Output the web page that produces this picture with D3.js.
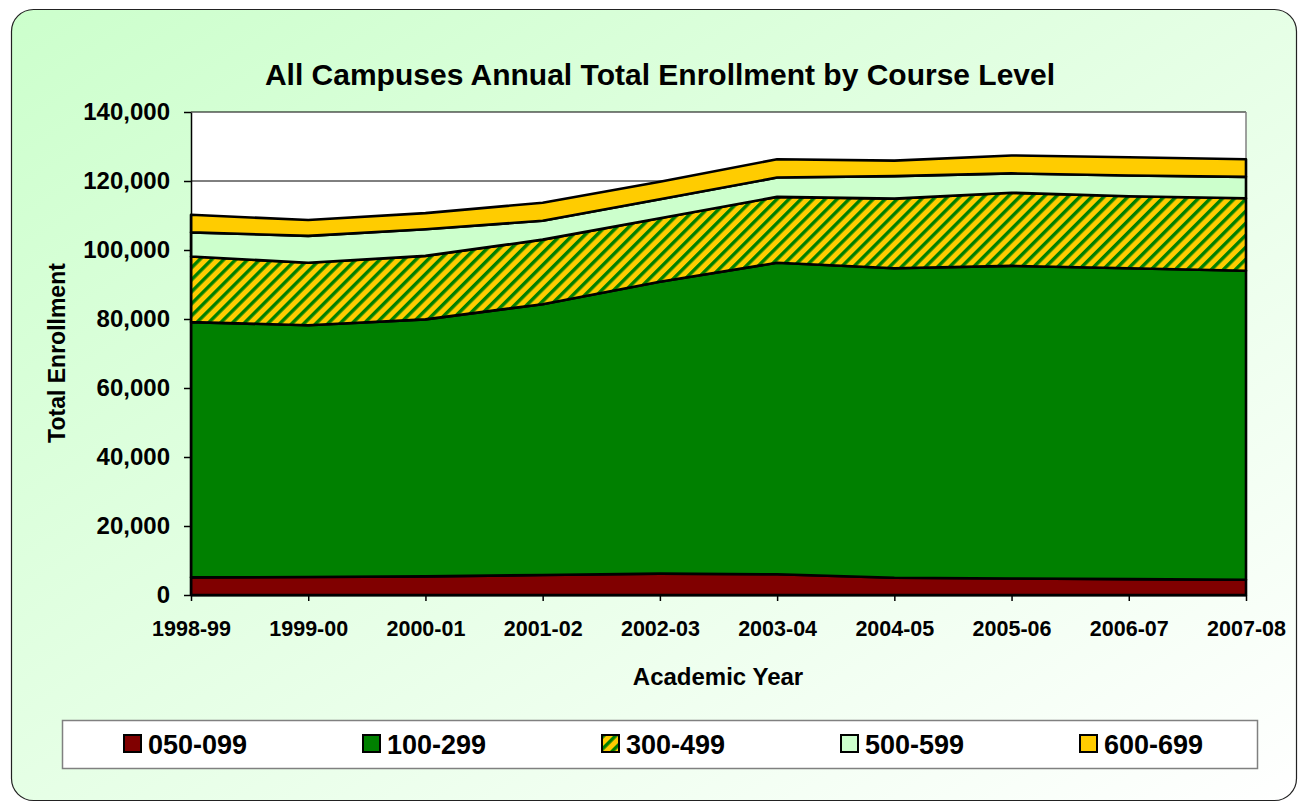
<!DOCTYPE html>
<html>
<head>
<meta charset="utf-8">
<script src="https://cdn.jsdelivr.net/npm/d3@7"></script>
<style>
body { margin: 0; background: #fff; }
text { font-family: "Liberation Sans", Arial, sans-serif; font-weight: bold; fill: #000; }
</style>
</head>
<body>
<div class="chart-container"></div>
<script>
var years = ["1998-99", "1999-00", "2000-01", "2001-02", "2002-03", "2003-04", "2004-05", "2005-06", "2006-07", "2007-08"];
var levels = ["050-099", "100-299", "300-499", "500-599", "600-699"];

// enrollment per course level
var lvl050 = [5100, 5200, 5400, 5800, 6200, 6000, 5000, 4800, 4600, 4400];
var lvl100 = [74000, 73000, 74500, 78500, 84600, 90300, 89700, 90600, 90100, 89600];
var lvl300 = [19000, 18100, 18400, 18700, 18400, 19100, 20200, 21200, 20900, 21000];
var lvl500 = [7000, 7800, 7700, 5500, 5500, 5600, 6500, 5600, 6000, 6200];
var lvl600 = [5100, 4600, 4700, 5200, 5100, 5300, 4500, 5200, 5300, 5100];

var yTicks = [0, 20000, 40000, 60000, 80000, 100000, 120000, 140000];

var W = 1301, H = 806;
var margin = {top: 112, right: 55, bottom: 211, left: 191},
    width = W - margin.left - margin.right,
    height = H - margin.top - margin.bottom;

var fills = {
    "050-099": "#800000",
    "100-299": "#008000",
    "300-499": "url(#hatch)",
    "500-599": "#ccffcc",
    "600-699": "#ffcc00"
};

var seriesVals = [lvl050, lvl100, lvl300, lvl500, lvl600];
var rows = years.map(function (yr, i) {
    var r = {year: yr};
    levels.forEach(function (k, j) { r[k] = seriesVals[j][i]; });
    return r;
});

var svg = d3.select(".chart-container")
    .append("svg")
    .attr("width", W)
    .attr("height", H);

var defs = svg.append("defs");

var grad = defs.append("linearGradient")
    .attr("id", "bg")
    .attr("x1", 0).attr("y1", 0)
    .attr("x2", 1).attr("y2", 1);
grad.append("stop").attr("offset", "0%").attr("stop-color", "#ccffcc");
grad.append("stop").attr("offset", "100%").attr("stop-color", "#ffffff");

// diagonal green on gold stripes for 300-499
var pat = defs.append("pattern")
    .attr("id", "hatch")
    .attr("patternUnits", "userSpaceOnUse")
    .attr("width", 8.5)
    .attr("height", 8.5)
    .attr("patternTransform", "rotate(45)");
pat.append("rect").attr("width", 8.5).attr("height", 8.5).attr("fill", "#ffcc00");
pat.append("rect").attr("width", 3.4).attr("height", 8.5).attr("fill", "#008000");

// chart frame
svg.append("rect")
    .attr("x", 11.5).attr("y", 9.5)
    .attr("width", 1285).attr("height", 791)
    .attr("rx", 22).attr("ry", 22)
    .attr("fill", "url(#bg)")
    .attr("stroke", "#222")
    .attr("stroke-width", 1.2);

var x = d3.scalePoint().domain(years).range([margin.left, margin.left + width]);
var y = d3.scaleLinear().domain([0, 140000]).range([margin.top + height, margin.top]);

// plot area
svg.append("rect")
    .attr("x", margin.left).attr("y", margin.top)
    .attr("width", width).attr("height", height)
    .attr("fill", "#fff");

svg.append("g")
    .selectAll("line")
    .data(yTicks.filter(function (t) { return t > 0; }))
    .enter().append("line")
    .attr("x1", margin.left).attr("x2", margin.left + width)
    .attr("y1", function (d) { return y(d); })
    .attr("y2", function (d) { return y(d); })
    .attr("stroke", "#000")
    .attr("stroke-width", 1);

svg.append("line")
    .attr("x1", margin.left + width).attr("x2", margin.left + width)
    .attr("y1", margin.top).attr("y2", margin.top + height)
    .attr("stroke", "#808080")
    .attr("stroke-width", 1.5);

var stack = d3.stack().keys(levels);
var layers = stack(rows);

var area = d3.area()
    .x(function (d) { return x(d.data.year); })
    .y0(function (d) { return y(d[0]); })
    .y1(function (d) { return y(d[1]); });

svg.append("g")
    .selectAll("path")
    .data(layers)
    .enter().append("path")
    .attr("d", area)
    .attr("fill", function (d) { return fills[d.key]; })
    .attr("stroke", "#000")
    .attr("stroke-width", 2.6)
    .attr("stroke-linejoin", "round");

// axes
var yAxis = svg.append("g")
    .attr("transform", "translate(" + margin.left + ",0)")
    .call(d3.axisLeft(y).tickValues(yTicks).tickSize(7).tickSizeOuter(0).tickPadding(14).tickFormat(d3.format(",")));
yAxis.selectAll("text").style("font-size", "24px");
yAxis.selectAll("line, path").attr("stroke", "#000").attr("stroke-width", 1.5);

var xAxis = svg.append("g")
    .attr("transform", "translate(0," + (margin.top + height) + ")")
    .call(d3.axisBottom(x).tickSize(6).tickSizeOuter(0).tickPadding(10));
xAxis.selectAll("text").style("font-size", "21.5px").attr("dy", null).attr("y", 41);
xAxis.selectAll("line, path").attr("stroke", "#000").attr("stroke-width", 1.5);
xAxis.select(".domain").attr("stroke-width", 2);

// titles
svg.append("text")
    .attr("x", 660).attr("y", 85)
    .attr("text-anchor", "middle")
    .style("font-size", "30px")
    .text("All Campuses Annual Total Enrollment by Course Level");

svg.append("text")
    .attr("x", 718).attr("y", 685)
    .attr("text-anchor", "middle")
    .style("font-size", "24px")
    .text("Academic Year");

svg.append("text")
    .attr("transform", "translate(65,353) rotate(-90)")
    .attr("text-anchor", "middle")
    .style("font-size", "23px")
    .text("Total Enrollment");

// legend
var legend = svg.append("g");
legend.append("rect")
    .attr("x", 62.5).attr("y", 720.5)
    .attr("width", 1195).attr("height", 48)
    .attr("fill", "#fff")
    .attr("stroke", "#808080")
    .attr("stroke-width", 1.5);

var items = legend.selectAll(".item")
    .data(levels)
    .enter().append("g")
    .attr("class", "item")
    .attr("transform", function (d, i) { return "translate(" + (124 + i * 239) + ",735)"; });

items.append("rect")
    .attr("width", 17).attr("height", 17)
    .attr("fill", function (d) { return fills[d]; })
    .attr("stroke", "#000")
    .attr("stroke-width", 2);

items.append("text")
    .attr("x", 24).attr("y", 19)
    .style("font-size", "27px")
    .text(function (d) { return d; });
</script>
</body>
</html>
